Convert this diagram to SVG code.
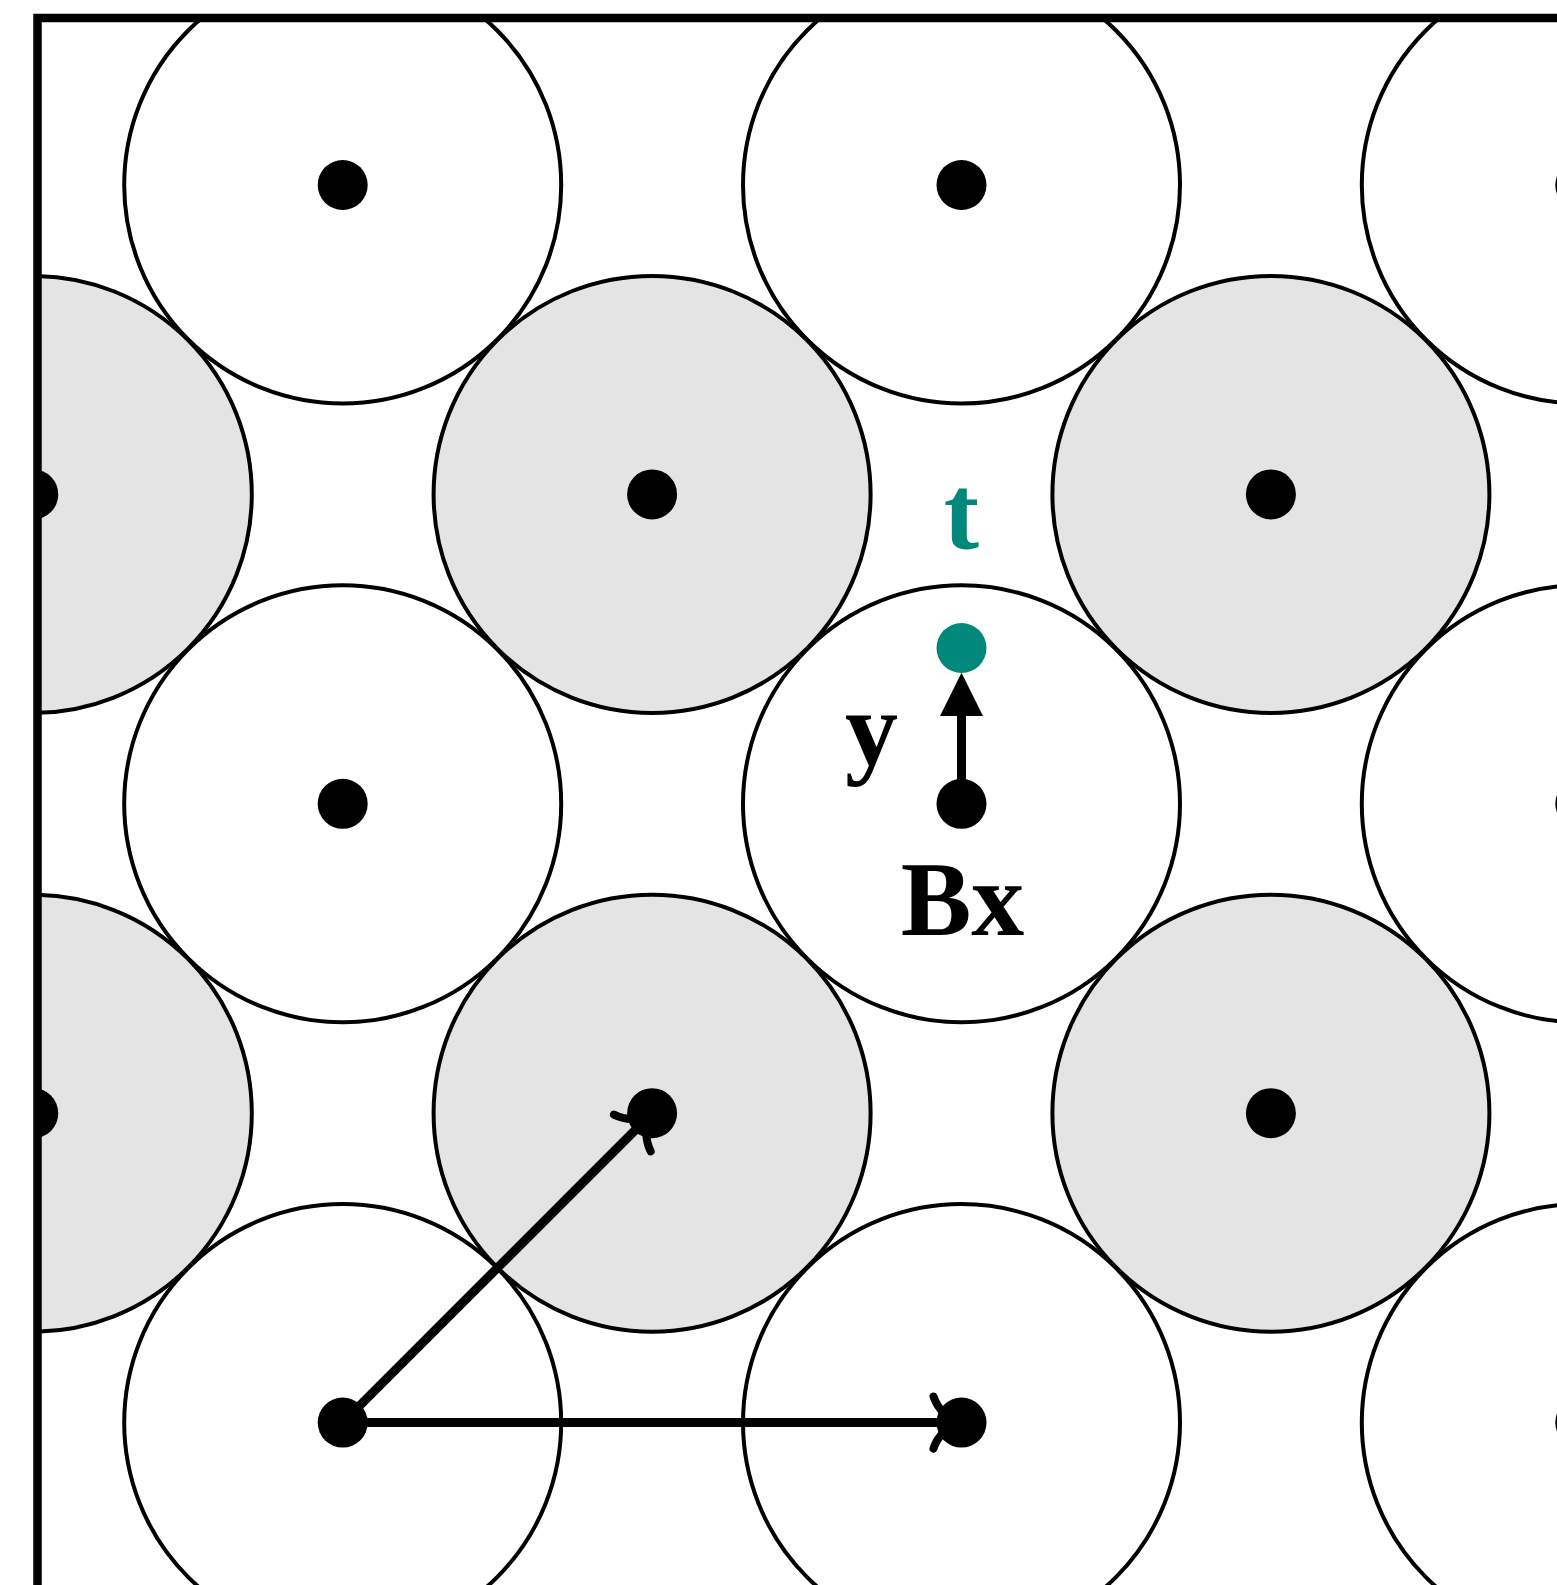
<svg xmlns="http://www.w3.org/2000/svg" width="1557" height="1585" viewBox="0 0 1557 1585">
<defs>
<style>
.c{stroke:#000;stroke-width:4}
.w{fill:#fff}
.g{fill:#e4e4e4}
.d{fill:#000}
.ln{stroke:#000;stroke-width:9;fill:none}
.lbl{font-family:"Liberation Serif","Times New Roman",serif;font-weight:bold;font-size:106px;text-anchor:middle}
</style>
<clipPath id="frame"><rect x="37.5" y="18" width="1530" height="1580"/></clipPath>
<marker id="to" viewBox="-40 -40 50 80" markerWidth="50" markerHeight="80" refX="0" refY="0" markerUnits="userSpaceOnUse" orient="auto" overflow="visible">
<path d="M -28,-26 C -24,-14 -14,-3 0,0 M -28,26 C -24,14 -14,3 0,0" fill="none" stroke="#000" stroke-width="8" stroke-linecap="round"/>
</marker>
</defs>
<rect width="1557" height="1585" fill="#fff"/>
<g clip-path="url(#frame)">
<g id="circles">
<circle id="c00" class="c w" cx="342.7" cy="185" r="218.5"/>
<circle id="c02" class="c w" cx="961.5" cy="185" r="218.5"/>
<circle id="c04" class="c w" cx="1580.3" cy="185" r="218.5"/>
<circle id="c11" class="c g" cx="33.3" cy="494.4" r="218.5"/>
<circle id="c13" class="c g" cx="652.1" cy="494.4" r="218.5"/>
<circle id="c15" class="c g" cx="1270.9" cy="494.4" r="218.5"/>
<circle id="c20" class="c w" cx="342.7" cy="803.8" r="218.5"/>
<circle id="c22" class="c w" cx="961.5" cy="803.8" r="218.5"/>
<circle id="c24" class="c w" cx="1580.3" cy="803.8" r="218.5"/>
<circle id="c31" class="c g" cx="33.3" cy="1113.2" r="218.5"/>
<circle id="c33" class="c g" cx="652.1" cy="1113.2" r="218.5"/>
<circle id="c35" class="c g" cx="1270.9" cy="1113.2" r="218.5"/>
<circle id="c40" class="c w" cx="342.7" cy="1422.6" r="218.5"/>
<circle id="c42" class="c w" cx="961.5" cy="1422.6" r="218.5"/>
<circle id="c44" class="c w" cx="1580.3" cy="1422.6" r="218.5"/>
</g>
<g id="connectors">
<line class="ln" x1="342.7" y1="1422.6" x2="652.1" y2="1113.2" marker-end="url(#to)"/>
<line class="ln" x1="342.7" y1="1422.6" x2="961.5" y2="1422.6" marker-end="url(#to)"/>
<line class="ln" x1="961.5" y1="803.8" x2="961.5" y2="712"/>
<polygon points="961.5,672.7 940,716 983,716" fill="#000"/>
</g>
<g id="dots">
<circle class="d" cx="342.7" cy="185" r="25"/>
<circle class="d" cx="961.5" cy="185" r="25"/>
<circle class="d" cx="1580.3" cy="185" r="25"/>
<circle class="d" cx="33.3" cy="494.4" r="25"/>
<circle class="d" cx="652.1" cy="494.4" r="25"/>
<circle class="d" cx="1270.9" cy="494.4" r="25"/>
<circle class="d" cx="342.7" cy="803.8" r="25"/>
<circle class="d" cx="961.5" cy="803.8" r="25"/>
<circle class="d" cx="1580.3" cy="803.8" r="25"/>
<circle class="d" cx="33.3" cy="1113.2" r="25"/>
<circle class="d" cx="652.1" cy="1113.2" r="25"/>
<circle class="d" cx="1270.9" cy="1113.2" r="25"/>
<circle class="d" cx="342.7" cy="1422.6" r="25"/>
<circle class="d" cx="961.5" cy="1422.6" r="25"/>
<circle class="d" cx="1580.3" cy="1422.6" r="25"/>
<circle id="target" cx="961.5" cy="648" r="25" fill="#00887A"/>
</g>
</g>
<g id="labels">
<text class="lbl" x="961.5" y="548" fill="#00887A">t</text>
<text class="lbl" x="871.5" y="763.5">y</text>
<text class="lbl" x="962.5" y="935">Bx</text>
</g>
<path id="frame-border" d="M 37.5,1600 V 18 H 1570" fill="none" stroke="#000" stroke-width="8.5" stroke-linejoin="miter"/>
</svg>
